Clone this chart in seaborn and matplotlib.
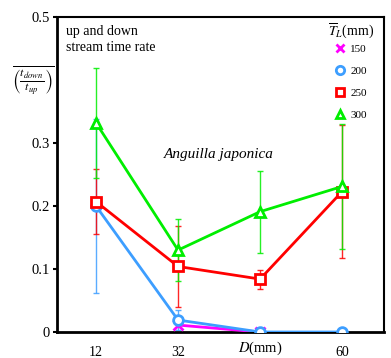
import numpy as np
import pandas as pd
import matplotlib
matplotlib.use("Agg")
import matplotlib.pyplot as plt
import seaborn as sns

# ---- data ----
categories = ["12", "32", "46", "60"]
sizes = ["150", "200", "250", "300"]

d150 = ["32", "46"]
v150 = [0.011, 0.0]
e150 = [0.0, 0.0]

d200 = ["12", "32", "46", "60"]
v200 = [0.200, 0.019, 0.0, 0.0]
e200 = [0.138, 0.016, 0.0, 0.0]

d250 = ["12", "32", "46", "60"]
v250 = [0.207, 0.104, 0.084, 0.223]
e250 = [0.052, 0.065, 0.015, 0.106]

d300 = ["12", "32", "46", "60"]
v300 = [0.332, 0.130, 0.191, 0.231]
e300 = [0.087, 0.049, 0.065, 0.099]

colors = {"150": "#ff00ff", "200": "#3d9eff", "250": "#ff0000", "300": "#00ee00"}
markers = {"150": "x", "200": "o", "250": "s", "300": "^"}

sns.set_theme(style="ticks")
plt.rcParams["font.family"] = ["Liberation Serif", "DejaVu Serif"]
plt.rcParams["mathtext.fontset"] = "stix"
plt.rcParams["text.color"] = "black"
plt.rcParams["axes.edgecolor"] = "black"
plt.rcParams["xtick.color"] = "black"
plt.rcParams["ytick.color"] = "black"
plt.rcParams["xtick.labelcolor"] = "black"
plt.rcParams["ytick.labelcolor"] = "black"

rows = []
for s, dd, vv, ee in [("150", d150, v150, e150), ("200", d200, v200, e200),
                      ("250", d250, v250, e250), ("300", d300, v300, e300)]:
    for d, v, e in zip(dd, vv, ee):
        rows.append({"D": d, "pos": categories.index(d), "val": v, "err": e, "TL": s})
df = pd.DataFrame(rows)

fig = plt.figure(figsize=(3.91, 3.58), dpi=100)
ax = fig.add_axes([57 / 391, 1 - 332 / 358, (384 - 57) / 391, (332 - 17) / 358])

# error bars
for s in sizes:
    sub = df[(df.TL == s) & (df.err > 0)]
    if len(sub):
        ax.errorbar(sub["pos"], sub["val"], yerr=sub["err"], fmt="none",
                    ecolor=colors[s], elinewidth=1.0, capsize=2, capthick=1.0,
                    alpha=0.85, zorder=2)

# lines with markers
for s in sizes:
    sub = df[df.TL == s]
    sns.lineplot(data=sub, x="pos", y="val", color=colors[s], linewidth=2.0,
                 marker=markers[s], markersize=7, markerfacecolor="white",
                 markeredgecolor=colors[s], markeredgewidth=2.0,
                 ax=ax, legend=False, zorder=3)

ax.set_xlim(-0.475, 3.51)
ax.set_ylim(0, 0.5)
ax.set_xticks([0, 1, 3])
ax.set_xticklabels(["12", "32", "60"], fontsize=10)
ax.tick_params(axis="x", length=0, pad=10)
ax.set_yticks([0, 0.1, 0.2, 0.3, 0.5])
ax.set_yticklabels(["0", "0.1", "0.2", "0.3", "0.5"], fontsize=10.5)
ax.tick_params(axis="y", length=3, width=1.5, direction="out", pad=2)
ax.set_xlabel("")
ax.set_ylabel("")
for side in ["left", "bottom"]:
    ax.spines[side].set_linewidth(2.0)
for side in ["top", "right"]:
    ax.spines[side].set_linewidth(1.5)
    ax.spines[side].set_visible(True)

# texts
ax.text(2, -0.026, r"$D$(mm)", ha="center", va="center", fontsize=10.5, clip_on=False)
ax.text(-0.37, 0.487, "up and down\nstream time rate", ha="left", va="top",
        fontsize=10, linespacing=1.25)
ax.text(1.5, 0.282, "Anguilla japonica", ha="center", va="center",
        fontsize=11, style="italic")
fig.text(33 / 391, 1 - 80 / 358,
         r"$\overline{\left(\frac{t_{down}}{t_{up}}\right)}$",
         ha="center", va="center", fontsize=12.5)

# legend title as separate text
fig.text(351 / 391, 1 - 31 / 358, r"$\overline{T}_L$(mm)", ha="center", va="center",
         fontsize=10)

# legend
handles = [plt.Line2D([], [], linestyle="none", marker=markers[s], color=colors[s],
                      markerfacecolor="white", markeredgewidth=2.0, markersize=6)
           for s in sizes]
leg = ax.legend(handles, sizes, loc="upper left",
                bbox_to_anchor=(336 / 391, 1 - 44 / 358),
                bbox_transform=fig.transFigure, frameon=False, fontsize=8,
                handlelength=0.8, handletextpad=0.5,
                labelspacing=1.1, borderaxespad=0, borderpad=0)

fig.savefig("out.png", dpi=100)
